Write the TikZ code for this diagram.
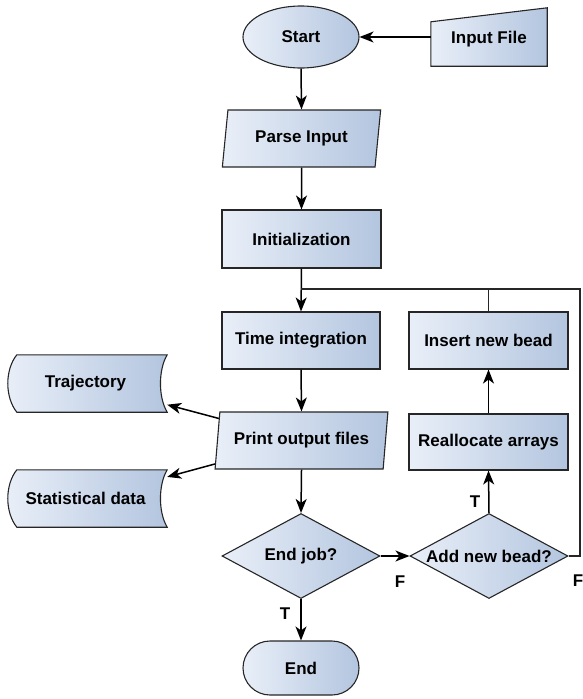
\documentclass[tikz,border=0pt]{standalone}
\usepackage{fontspec}
\setmainfont{Liberation Sans}
\usetikzlibrary{shapes.geometric,arrows.meta,calc}
\definecolor{lightfill}{HTML}{E9EFF8}
\definecolor{darkfill}{HTML}{B3C5DF}
\definecolor{edge}{HTML}{262626}
\begin{document}
\begin{tikzpicture}[x=1pt,y=-1pt,
  font=\fontsize{17}{20}\selectfont\bfseries,
  box/.style={draw=edge, line width=1.1pt, left color=lightfill, right color=darkfill, inner sep=0pt},
  plain/.style={inner sep=0pt, minimum width=#1},
  arr/.style={draw=black, line width=1.5pt, -{Stealth[length=14pt,width=11pt,inset=4pt]}},
  ln/.style={draw=edge, line width=1.1pt},
  lab/.style={inner sep=0pt}]
\useasboundingbox (0,0) rectangle (582,699);

% nodes
\node[box, ellipse, minimum width=116pt, minimum height=62pt] (start) at (301,37) {Start};
\node[plain=116pt, minimum height=58pt] (input) at (489,37) {};
\path[box] (input.south west) -- (input.south east) -- (input.north east)
   -- ($(input.north west)+(0,14)$) -- cycle;
\node at ($(input.center)+(0,2)$) {Input File};

\node[box, trapezium, trapezium stretches=true, trapezium left angle=77, trapezium right angle=103,
      minimum width=159pt, minimum height=57pt] (parse) at (301.5,138.5) {Parse Input};
\node[box, rectangle, minimum width=159pt, minimum height=58pt] (init) at (301.5,239) {Initialization};
\node[box, rectangle, minimum width=158pt, minimum height=57pt] (time) at (301,340.5) {Time integration};
\node[box, trapezium, trapezium stretches=true, trapezium left angle=76, trapezium right angle=104,
      minimum width=173pt, minimum height=57pt] (print) at (301.5,440.5) {Print output files};
\node[box, diamond, minimum width=158pt, minimum height=85pt] (endjob) at (301,556) {\makebox[0pt][c]{End job?}};
\node[box, rectangle, rounded corners=27pt, minimum width=116pt, minimum height=54pt] (end) at (301,668) {End};

\node[box, rectangle, minimum width=159pt, minimum height=57pt] (insert) at (488.5,340.5) {Insert new bead};
\node[box, rectangle, minimum width=159pt, minimum height=56pt] (realloc) at (488.5,442) {Reallocate arrays};
\node[box, diamond, minimum width=158pt, minimum height=85pt] (add) at (489,556) {\makebox[0pt][c]{Add new bead?}};

% storage shapes
\node[plain=159pt, minimum height=57pt] (traj) at (87.5,383.5) {};
\path[box] ($(traj.north west)+(9,0)$) -- (traj.north east)
   .. controls +(-9,15) and +(-9,-15) .. (traj.south east)
   -- ($(traj.south west)+(9,0)$)
   .. controls +(-12,-15) and +(-12,15) .. ($(traj.north west)+(9,0)$) -- cycle;
\node at ($(traj.center)+(-2,0)$) {Trajectory};

\node[plain=159pt, minimum height=57pt] (stat) at (87.5,498.5) {};
\path[box] ($(stat.north west)+(9,0)$) -- (stat.north east)
   .. controls +(-9,15) and +(-9,-15) .. (stat.south east)
   -- ($(stat.south west)+(9,0)$)
   .. controls +(-12,-15) and +(-12,15) .. ($(stat.north west)+(9,0)$) -- cycle;
\node at ($(stat.center)+(-2,0)$) {Statistical data};

% coordinates for the loop
\coordinate (j) at (301,289);
\coordinate (rc) at (580,289);

% connectors
\draw[arr] (input.west) -- (start.east);
\draw[arr] (start.south) -- (parse.north);
\draw[arr] (parse.south) -- (init.north);
\draw[arr] (init.south) -- (time.north);
\draw[arr] (time.south) -- (print.north);
\draw[arr] (print) -- (traj);
\draw[arr] (print) -- (stat);
\draw[arr] (print.south) -- (endjob.north);
\draw[arr] (endjob.south) -- (end.north);
\draw[arr] (endjob.east) -- (add.west);
\draw[arr] (add.north) -- (realloc.south);
\draw[arr] (realloc.north) -- (insert.south);
\draw[ln] (add.east) -| (rc) -- (j);
\draw[ln] (insert.north) -- (insert.north |- j);

% labels
\node[lab] (f1) at (400,582) {F};
\node[lab] (f2) at (578,581) {F};
\node[lab] (t1) at (475,502) {T};
\node[lab] (t2) at (285,614) {T};
\end{tikzpicture}
\end{document}
